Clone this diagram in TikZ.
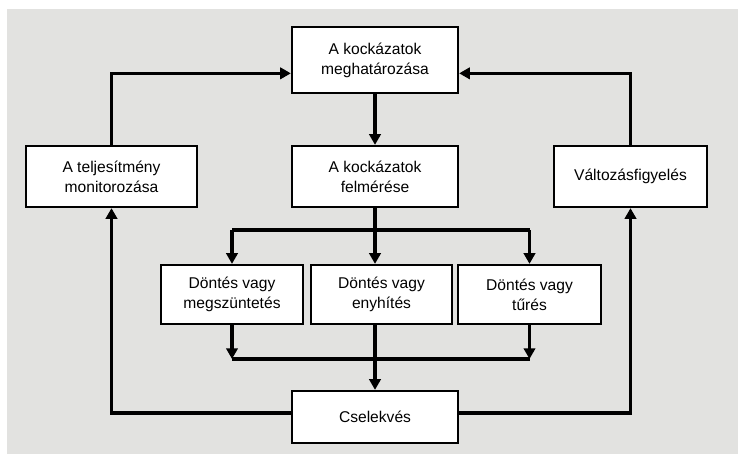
\documentclass[tikz,border=0pt]{standalone}
\usepackage{fontspec}
\setmainfont{Liberation Sans}
\usetikzlibrary{arrows.meta}
\definecolor{bgpaper}{RGB}{226,226,224}
\tikzset{
	box/.style={draw,line width=1.7pt,fill=white,align=center,
		inner sep=0pt,font=\fontsize{11.7}{15}\selectfont},
	link/.style={line width=2.6pt},
	arr/.style={link,-{Triangle[length=8pt,width=8.5pt]}}
}
\begin{document}
\begin{tikzpicture}[x=0.75pt,y=-0.75pt]
	\useasboundingbox (0,0) rectangle (738,454);
	\fill[bgpaper] (7,9) rectangle (738,454);
	
	\node[box,minimum width=166*0.75pt,minimum height=66*0.75pt] (risk) 
	at (375,60) {A kockázatok\\meghatározása};
	\node[box,minimum width=166*0.75pt,minimum height=61*0.75pt] (assess) 
	at (375,176.5) {A kockázatok\\felmérése};
	\node[box,minimum width=171*0.75pt,minimum height=61*0.75pt] (mon) 
	at (111.5,176.5) {A teljesítmény\\monitorozása};
	\node[box,minimum width=153*0.75pt,minimum height=61*0.75pt] (watch) 
	at (630.5,176.5) {Változásfigyelés};
	
	\node[box,minimum width=142*0.75pt,minimum height=59*0.75pt] (d1) 
	at (232,294.5) {Döntés vagy\\megszüntetés};
	\node[box,minimum width=141*0.75pt,minimum height=59*0.75pt] (d2) 
	at (381.5,294.5) {Döntés vagy\\enyhítés};
	\node[box,minimum width=143*0.75pt,minimum height=59*0.75pt] (d3) 
	at (529.5,294.5) {Döntés vagy\\tűrés};
	
	\node[box,minimum width=166*0.75pt,minimum height=52*0.75pt] (act) 
	at (375,417) {Cselekvés};
	
	\coordinate (split) at (375,230);
	\coordinate (merge) at (375,359);
	
	% felső hurok
	\draw[arr] (mon.north) |- ([yshift=-10pt]risk.west);
	\draw[arr] (watch.north) |- ([yshift=-10pt]risk.east);
	\draw[arr] (risk.south) -- (assess.north);
	
	% szétválás
	\draw[link] (assess.south) -- (split);
	\draw[link] (d1.north |- split) -- (d3.north |- split);
	\draw[arr] (d1.north |- split) -- (d1.north);
	\draw[arr] (split) -- (split |- d2.north);
	\draw[arr] (d3.north |- split) -- (d3.north);
	
	% összefutás
	\draw[link] (d1.south |- merge) -- (d3.south |- merge);
	\draw[arr] (d1.south) -- (d1.south |- merge);
	\draw[arr] (d3.south) -- (d3.south |- merge);
	\draw[arr] (merge |- d2.south) -- (act.north);
	
	% alsó hurok
	\draw[arr] ([yshift=3pt]act.west) -| (mon.south);
	\draw[arr] ([yshift=3pt]act.east) -| (watch.south);
\end{tikzpicture}
\end{document}
